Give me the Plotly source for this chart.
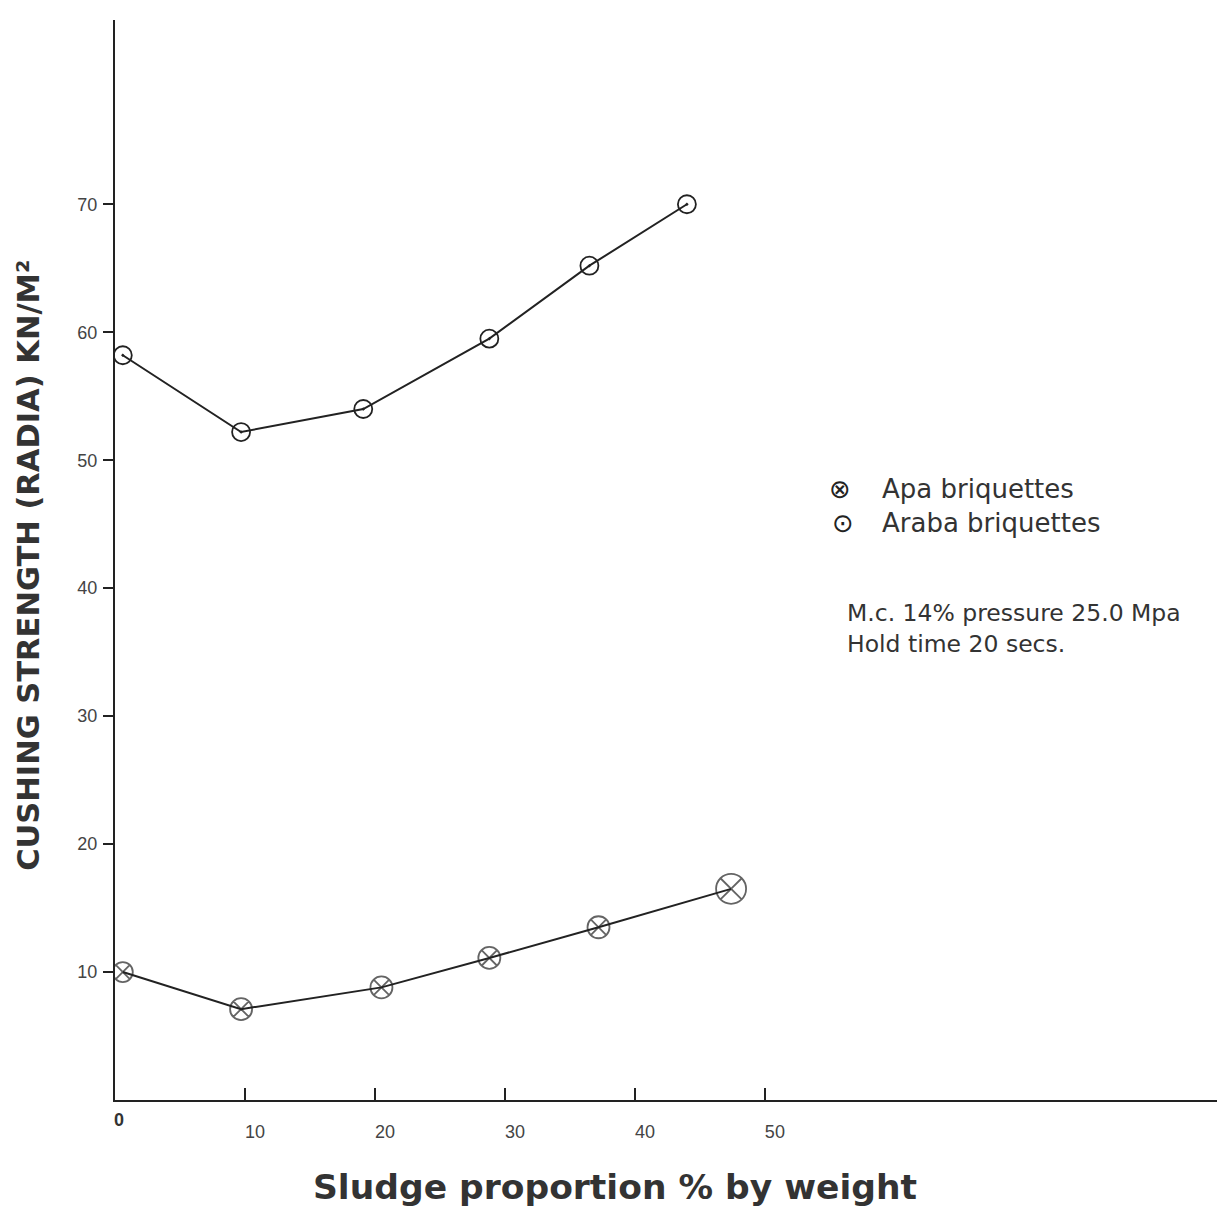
import plotly.graph_objects as go

# Data
apa_x = [0.6, 9.7, 20.5, 28.8, 37.2, 47.4]
apa_y = [10.0, 7.1, 8.8, 11.1, 13.5, 16.5]
apa_sizes = [20, 22, 22, 22, 22, 30]

araba_x = [0.6, 9.7, 19.1, 28.8, 36.5, 44.0]
araba_y = [58.2, 52.2, 54.0, 59.5, 65.2, 70.0]

x_ticks = [10, 20, 30, 40, 50]
y_ticks = [10, 20, 30, 40, 50, 60, 70]

legend_names = ["Apa briquettes", "Araba briquettes"]
legend_glyphs = ["⊗", "⊙"]

ink = "#222222"
txt = "#333333"
wide = "DejaVu Sans, Verdana, sans-serif"

fig = go.Figure()

fig.add_trace(go.Scatter(
    x=araba_x, y=araba_y, mode="lines+markers", showlegend=False, name=legend_names[1],
    line=dict(color=ink, width=2),
    marker=dict(symbol="circle-open-dot", size=18, color=ink, line=dict(width=1.8, color=ink)),
))
fig.add_trace(go.Scatter(
    x=apa_x, y=apa_y, mode="lines+markers", showlegend=False, name=legend_names[0],
    line=dict(color=ink, width=2),
    marker=dict(symbol="circle-x-open", size=apa_sizes, color=ink, line=dict(width=1.8, color=ink)),
))

fig.update_layout(
    width=1225, height=1208,
    margin=dict(l=107, r=8, t=12, b=116, autoexpand=False),
    paper_bgcolor="white", plot_bgcolor="white",
    font=dict(family="Liberation Sans, Arial, sans-serif", color=txt),
    showlegend=False,
    xaxis=dict(
        range=[0, 85.4], showgrid=False, zeroline=False, automargin=False,
        showline=True, linecolor=ink, linewidth=2,
        tickvals=x_ticks, ticks="inside", ticklen=12, tickwidth=1.5, tickcolor=ink,
        tickfont=dict(size=18, color="#444444"),
        ticklabelshift=10, ticklabelstandoff=14,
    ),
    yaxis=dict(
        range=[0, 84.4], showgrid=False, zeroline=False, automargin=False,
        showline=True, linecolor=ink, linewidth=2,
        tickvals=y_ticks, ticks="outside", ticklen=10, tickwidth=1.5, tickcolor=ink,
        tickfont=dict(size=18, color="#444444"),
        ticklabelstandoff=2,
    ),
)

# axis titles
fig.add_annotation(
    x=0.4505, y=-0.0806, xref="paper", yref="paper", text="<b>Sludge proportion % by weight</b>",
    showarrow=False, xanchor="center", yanchor="middle",
    font=dict(size=34.5, color=txt, family=wide),
)
fig.add_annotation(
    x=-0.078, y=0.495, xref="paper", yref="paper", text="<b>CUSHING STRENGTH (RADIA) KN/M²</b>",
    showarrow=False, textangle=-90, xanchor="center", yanchor="middle",
    font=dict(size=30.5, color=txt, family=wide),
)

fig.add_annotation(
    x=0, y=0, xref="x", yref="y", text="<b>0</b>", showarrow=False,
    xanchor="center", yanchor="top", yshift=-8, xshift=4,
    font=dict(size=18, color=txt),
)

# legend (key) drawn as text
legend_rows_y = [0.5657, 0.5343]
legend_sym_x = [0.6532, 0.6559]
for name, glyph, yy, sx in zip(legend_names, legend_glyphs, legend_rows_y, legend_sym_x):
    fig.add_annotation(
        x=sx, y=yy, xref="paper", yref="paper", text=glyph, showarrow=False,
        xanchor="center", yanchor="middle", font=dict(size=26, color=ink, family=wide),
    )
    fig.add_annotation(
        x=0.6892, y=yy, xref="paper", yref="paper", text=name, showarrow=False,
        xanchor="left", yanchor="middle", font=dict(size=26, color=txt, family=wide),
    )

fig.add_annotation(
    x=0.6577, y=0.4657, xref="paper", yref="paper", xanchor="left", yanchor="top",
    align="left", showarrow=False,
    text="M.c. 14% pressure 25.0 Mpa<br>Hold time 20 secs.",
    font=dict(size=23.5, family=wide, color=txt),
)

fig.write_html("out.html")
